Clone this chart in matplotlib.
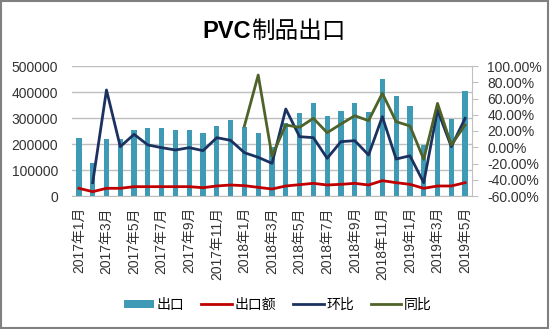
import matplotlib
matplotlib.use("Agg")
import matplotlib.pyplot as plt
import numpy as np
from matplotlib.patches import Rectangle

plt.rcParams['font.family'] = ['Liberation Sans', 'Noto Sans CJK SC', 'DejaVu Sans']

months = ['2017年1月', '2017年2月', '2017年3月', '2017年4月', '2017年5月', '2017年6月',
          '2017年7月', '2017年8月', '2017年9月', '2017年10月', '2017年11月', '2017年12月',
          '2018年1月', '2018年2月', '2018年3月', '2018年4月', '2018年5月', '2018年6月',
          '2018年7月', '2018年8月', '2018年9月', '2018年10月', '2018年11月', '2018年12月',
          '2019年1月', '2019年2月', '2019年3月', '2019年4月', '2019年5月']

export_qty = [222000, 126000, 218000, 218000, 254000, 263000, 263000, 254000, 254000,
              243000, 270000, 294000, 266000, 241000, 190000, 280000, 318000, 356000,
              308000, 327000, 356000, 324000, 450000, 386000, 347000, 196000, 337000,
              295000, 404000]

export_val = [29600, 16700, 29600, 29600, 35900, 35900, 35900, 35900, 35900, 32000,
              38500, 42300, 39700, 33300, 26900, 38500, 43600, 48700, 42300, 44900,
              48700, 42300, 59000, 51300, 44900, 29600, 38500, 38500, 51300]

mom = [np.nan, -43.6, 70.5, 0.7, 15.9, 2.8, -0.5, -3.4, -0.5, -4.2, 11.8, 8.5,
       -6.7, -12.4, -19.8, 47.1, 13.0, 11.8, -13.6, 6.9, 8.1, -9.5, 37.6, -14.5,
       -10.5, -43.6, 45.8, 0.7, 35.6]

yoy = [np.nan] * 12 + [26.2, 88.9, -10.8, 27.4, 24.5, 35.6, 17.9, 28.6, 38.8, 32.7,
                       66.4, 31.5, 26.2, -14.9, 54.0, 2.8, 27.4]

left_ticks = [0, 100000, 200000, 300000, 400000, 500000]
right_ticks = [-60, -40, -20, 0, 20, 40, 60, 80, 100]

c_bar = '#3E9AB5'
c_red = '#C00000'
c_navy = '#1B3160'
c_green = '#4F6228'

fig = plt.figure(figsize=(5.5, 3.29), dpi=100)
ax = fig.add_axes([72/550, 1-196/329, 400/550, 130/329])
ax2 = ax.twinx()

x = np.arange(len(months))
bars = ax.bar(x, export_qty, width=0.38, color=c_bar, zorder=2, label='出口')
l1, = ax.plot(x, export_val, color=c_red, lw=2.0, zorder=3, label='出口额')
l2, = ax2.plot(x, mom, color=c_navy, lw=2.0, zorder=3, label='环比')
l3, = ax2.plot(x, yoy, color=c_green, lw=2.0, zorder=3, label='同比')

ax.set_xlim(-0.5, len(months) - 0.5)
ax.set_ylim(0, 500000)
ax2.set_ylim(-60, 100)
ax.set_yticks(left_ticks)
ax.set_yticklabels([str(v) for v in left_ticks], fontsize=10, color='#333333')
ax2.set_yticks(right_ticks)
ax2.set_yticklabels(['%.2f%%' % v for v in right_ticks], fontsize=10, color='#333333')

ax.yaxis.grid(True, color='#BFBFBF', lw=1.0, zorder=0)
ax.set_axisbelow(True)
for s in ['top', 'left', 'right']:
    ax.spines[s].set_visible(False)
for s in ['top', 'left', 'bottom']:
    ax2.spines[s].set_visible(False)
ax2.spines['right'].set_color('#BFBFBF')
ax.spines['bottom'].set_color('#BFBFBF')
ax.tick_params(axis='y', length=0, pad=10)
ax2.tick_params(axis='y', length=4, color='#BFBFBF', pad=7)

ax.set_xticks(x[::2])
ax.set_xticklabels(months[::2], rotation=90, fontsize=10, color='#333333')
ax.tick_params(axis='x', length=0, pad=8)

fig.text(0.457, 0.905, 'PVC', ha='right', va='center', fontsize=17, fontweight='bold')
fig.text(0.457, 0.905, '制品出口', ha='left', va='center', fontsize=17,
         family=['Noto Sans CJK SC'])

fig.legend(handles=[bars, l1, l2, l3], labels=['出口', '出口额', '环比', '同比'],
           loc='center', bbox_to_anchor=(0.505, 0.073), ncol=4, frameon=False,
           fontsize=10, handlelength=2.2, handleheight=0.6, handletextpad=0.2,
           columnspacing=1.2)

fig.patches.append(Rectangle((0.002, 0.003), 0.994, 0.993, transform=fig.transFigure,
                             fill=False, edgecolor='#808080', lw=1.5))

fig.savefig('out.png', dpi=100)
